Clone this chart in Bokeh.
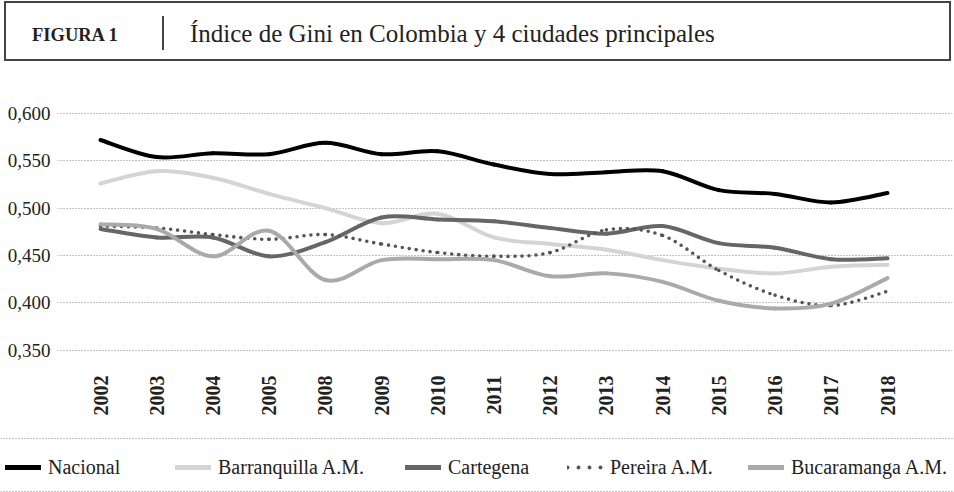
from bokeh.plotting import figure
from bokeh.models import (Range1d, FixedTicker, CustomJSTickFormatter, Legend, LegendItem, Div, Span)
from bokeh.embed import file_html
from bokeh.resources import INLINE
import math

# ---------------- data ----------------
years = ["2002", "2003", "2004", "2005", "2008", "2009", "2010", "2011",
         "2012", "2013", "2014", "2015", "2016", "2017", "2018"]
nacional = [0.572, 0.554, 0.558, 0.557, 0.569, 0.557, 0.560, 0.546,
            0.536, 0.538, 0.539, 0.519, 0.515, 0.506, 0.516]
barranquilla = [0.526, 0.539, 0.532, 0.515, 0.500, 0.484, 0.494, 0.469,
                0.462, 0.456, 0.445, 0.436, 0.431, 0.438, 0.440]
cartagena = [0.478, 0.469, 0.469, 0.449, 0.464, 0.490, 0.488, 0.486,
             0.479, 0.473, 0.481, 0.463, 0.458, 0.446, 0.447]
pereira = [0.481, 0.479, 0.472, 0.467, 0.472, 0.462, 0.453, 0.449,
           0.453, 0.477, 0.471, 0.434, 0.408, 0.397, 0.412]
bucaramanga = [0.483, 0.478, 0.449, 0.476, 0.424, 0.445, 0.446, 0.445,
               0.428, 0.431, 0.422, 0.402, 0.394, 0.399, 0.426]
y_ticks = [0.35, 0.40, 0.45, 0.50, 0.55, 0.60]

series_names = ["Nacional", "Barranquilla A.M.", "Cartegena", "Pereira A.M.", "Bucaramanga A.M."]
series_values = [nacional, barranquilla, cartagena, pereira, bucaramanga]
figure_label = "FIGURA 1"
title_text = "Índice de Gini en Colombia y 4 ciudades principales"

SERIF = "Liberation Serif"
SERIF_CSS = "'Liberation Serif', serif"
W = 954

styles = [
    dict(line_color="#000000", line_width=4, line_cap="round"),
    dict(line_color="#d4d4d4", line_width=4, line_cap="round"),
    dict(line_color="#666666", line_width=4, line_cap="round"),
    dict(line_color="#555555", line_width=3.6, line_cap="round", line_dash="0 7"),
    dict(line_color="#aaaaaa", line_width=4, line_cap="round"),
]
legend_styles = [
    dict(line_color="#000000", line_width=5, line_cap="round"),
    dict(line_color="#d4d4d4", line_width=5, line_cap="round"),
    dict(line_color="#666666", line_width=5, line_cap="round"),
    dict(line_color="#555555", line_width=4, line_cap="round", line_dash="0 11"),
    dict(line_color="#aaaaaa", line_width=5, line_cap="round"),
]


def smooth(xs, ys):
    """Bezier segments (Excel-like smoothed line) through the data points."""
    n = len(xs)
    out = dict(x0=[], y0=[], x1=[], y1=[], cx0=[], cy0=[], cx1=[], cy1=[])
    for i in range(n - 1):
        a = i - 1 if i > 0 else i
        d = i + 2 if i + 2 < n else i + 1
        out["x0"].append(xs[i]); out["y0"].append(ys[i])
        out["x1"].append(xs[i + 1]); out["y1"].append(ys[i + 1])
        out["cx0"].append(xs[i] + (xs[i + 1] - xs[a]) / 6.0)
        out["cy0"].append(ys[i] + (ys[i + 1] - ys[a]) / 6.0)
        out["cx1"].append(xs[i + 1] - (xs[d] - xs[i]) / 6.0)
        out["cy1"].append(ys[i + 1] - (ys[d] - ys[i]) / 6.0)
    return out


# ---------------- title band (HTML) ----------------
title_html = f"""
<div style="position:relative;width:947px;height:60px;margin:1px 0 0 4px;box-sizing:border-box;
            border:2px solid #444;font-family:{SERIF_CSS};color:#222;">
  <span style="position:absolute;left:26px;top:23px;font-size:18.5px;line-height:1;
               font-weight:bold;white-space:nowrap;">{figure_label}</span>
  <span style="position:absolute;left:156px;top:13px;width:1.5px;height:34px;
               background:#444;"></span>
  <span style="position:absolute;left:184px;top:18px;font-size:25px;line-height:1;
               white-space:nowrap;">{title_text}</span>
</div>
"""
title_div = Div(text=title_html, width=W, height=68, margin=0)

# ---------------- main chart ----------------
xs = list(range(len(years)))
p = figure(width=W, height=357, x_range=Range1d(-0.765, 15.156),
           y_range=Range1d(0.34736, 0.61374),
           toolbar_location=None, output_backend="svg",
           min_border_left=57, min_border_right=2, min_border_top=32, min_border_bottom=73,
           outline_line_color=None, margin=0)

for vals, st in zip(series_values, styles):
    p.bezier(**smooth(xs, vals), **st)

p.xgrid.visible = False
p.ygrid.ticker = FixedTicker(ticks=y_ticks)
p.ygrid.grid_line_color = "#8a8a8a"
p.ygrid.grid_line_dash = "1 2"
p.ygrid.grid_line_width = 1

p.yaxis.ticker = FixedTicker(ticks=y_ticks)
p.yaxis.formatter = CustomJSTickFormatter(code="return tick.toFixed(3).replace('.', ',');")
p.yaxis.major_label_text_font = SERIF
p.yaxis.major_label_text_font_size = "19px"
p.yaxis.major_label_text_color = "#222222"
p.yaxis.major_label_standoff = 7

p.xaxis.ticker = FixedTicker(ticks=xs)
p.xaxis.major_label_overrides = {i: y for i, y in enumerate(years)}
p.xaxis.major_label_orientation = math.pi / 2
p.xaxis.major_label_text_font = SERIF
p.xaxis.major_label_text_font_style = "bold"
p.xaxis.major_label_text_font_size = "20px"
p.xaxis.major_label_text_color = "#222222"
p.xaxis.major_label_standoff = 23

for ax in (p.xaxis, p.yaxis):
    ax.axis_line_color = None
    ax.major_tick_out = 0
    ax.major_tick_in = 0
    ax.minor_tick_out = 0
    ax.minor_tick_in = 0

# ---------------- legend band ----------------
lg = figure(width=W, height=67, x_range=Range1d(0, W), y_range=Range1d(0, 67),
            toolbar_location=None, output_backend="svg",
            x_axis_location=None, y_axis_location=None, min_border=0,
            outline_line_color=None, margin=0)
lg.grid.visible = False
for yy in (54, 1):
    lg.add_layout(Span(location=yy, dimension="width", line_color="#8a8a8a",
                       line_dash="1 2", line_width=1))

legend_x = [5, 175, 405, 567, 748]
for name, vals, st, lx in zip(series_names, series_values, legend_styles, legend_x):
    r = lg.line(x=xs, y=vals, visible=False, **st)
    leg = Legend(items=[LegendItem(label=name, renderers=[r])], location=(lx, 13),
                 orientation="horizontal", padding=0, margin=0, spacing=0,
                 glyph_width=36, glyph_height=24, label_height=24, label_standoff=7,
                 border_line_color=None, background_fill_alpha=0,
                 label_text_font=SERIF_CSS, label_text_font_size="20px",
                 label_text_color="#222222")
    lg.add_layout(leg)

open("out.html", "w").write(file_html([title_div, p, lg], INLINE))
